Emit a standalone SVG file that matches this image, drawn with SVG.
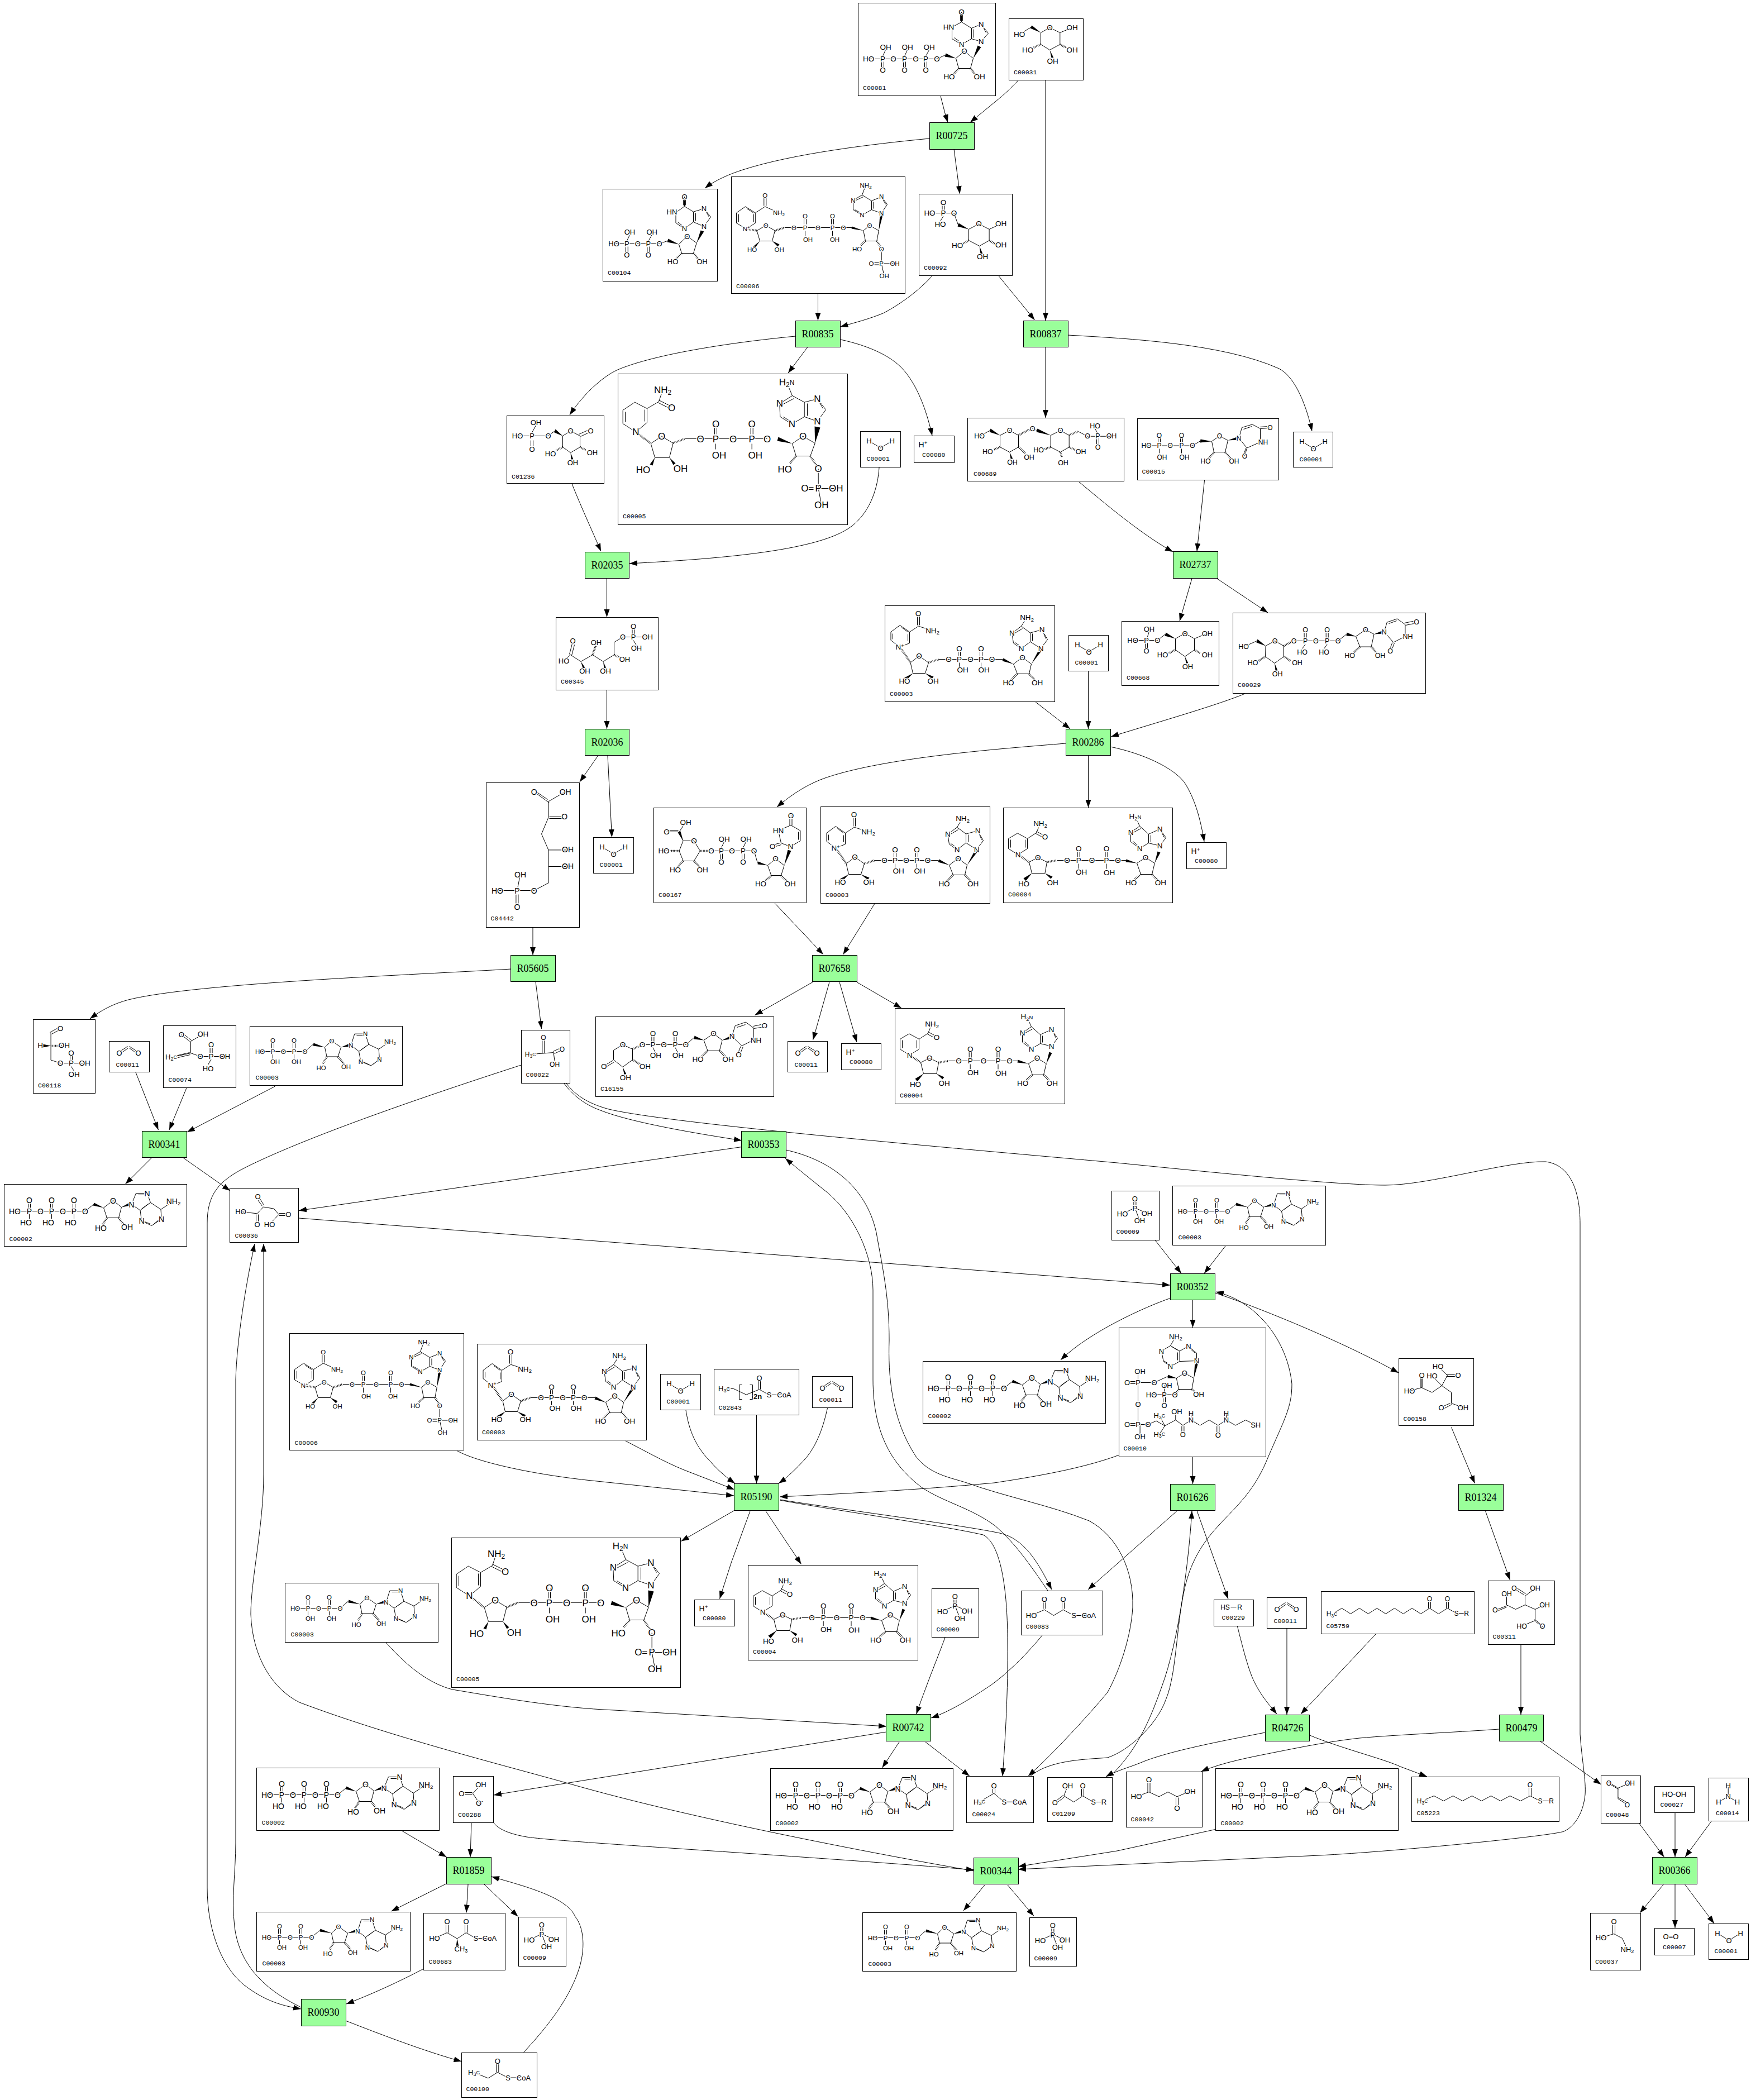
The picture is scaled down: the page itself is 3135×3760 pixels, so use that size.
<svg xmlns="http://www.w3.org/2000/svg" xmlns:xlink="http://www.w3.org/1999/xlink" width="3135" height="3760" viewBox="0 0 3135 3760">
<style>
.bg{fill:#fff}
.b{fill:#fff;stroke:#000;stroke-width:1}
.r{fill:#9aff9a;stroke:#000;stroke-width:1}
.rt{font-family:"Liberation Serif",serif;font-size:18px;text-anchor:middle;dominant-baseline:central;fill:#000}
.id{font-family:"Liberation Mono",monospace;font-size:11.5px;fill:#000;dominant-baseline:central}
.mol path{fill:none;stroke:#000;stroke-width:1}
.mol path.h{stroke-width:3.5;stroke-dasharray:1 1.6}
.mol polygon{fill:#000}
.mol text{font-family:"Liberation Sans",sans-serif;text-anchor:middle;dominant-baseline:central;fill:#000;paint-order:stroke;stroke:#fff;stroke-width:3px}
.mol tspan{font-size:70%}
#connectors path{fill:none;stroke:#000;stroke-width:1;marker-end:url(#a)}
</style>
<defs>
<marker id="a" markerUnits="userSpaceOnUse" markerWidth="15" markerHeight="11" refX="14" refY="5" orient="auto"><path d="M0 0L14 5L0 10Z" fill="#000"/></marker>

<g id="water" class="mol" font-size="13"><path d="M15.4 17L36 29.5L56.8 17"/><text x="15.4" y="17">H</text><text x="36" y="29.5">O</text><text x="56.8" y="17">H</text></g>
<g id="co2" class="mol" font-size="13"><path d="M18 19L33 9M20 22L34 12M36 12L50 22M36 9L52 19"/><text x="18" y="20.7">O</text><text x="52" y="20.7">O</text></g>
<g id="hp" class="mol" font-size="14"><text x="16" y="15">H<tspan dy="-4">+</tspan></text></g>
<g id="pi" class="mol" font-size="13"><path d="M39.4 16V26M43.4 16V26M41.4 30L19 41M41.4 30L63 40M41.4 30L50 53"/><text x="41.4" y="13.7">O</text><text x="19" y="41">HO</text><text x="63" y="40">OH</text><text x="50" y="53">OH</text><text x="41.4" y="30.5">P</text></g>

<g id="atp" class="mol" font-size="14">
<path d="M19 48H145M43 31V42M47 31V42M83 31V42M87 31V42M123 31V42M127 31V42M45 53V62M85 53V62M125 53V62M145 48L160 36M178 42L195 29L210 41L205 60H184ZM228 36L236 16H256L262 32.6L243.5 46.5ZM262 32.6L280.5 45L281.6 62L264 74L246 65.5L243.5 46.5M280.5 45L303 30M240 19H254M258 35L246 44M268 71L279 62M249 66L262 71"/>
<path class="h" d="M184 60L176 72M205 60L214 72"/>
<polygon points="178,42 161,33 159,38"/><polygon points="210,41 224,33 226,38"/>
<text x="19" y="48">HO</text><text x="45" y="48">P</text><text x="45" y="28">O</text><text x="39" y="68">HO</text><text x="65" y="48">O</text><text x="85" y="48">P</text><text x="85" y="28">O</text><text x="79" y="68">HO</text><text x="105" y="48">O</text><text x="125" y="48">P</text><text x="125" y="28">O</text><text x="119" y="68">HO</text><text x="145" y="48">O</text><text x="195" y="29">O</text><text x="173" y="78">HO</text><text x="220" y="76">OH</text><text x="228" y="36">N</text><text x="256" y="16">N</text><text x="246" y="65.5">N</text><text x="281.6" y="62">N</text><text x="303" y="30">NH<tspan dy="3">2</tspan></text>
</g>

<g id="adp" class="mol" font-size="11.5">
<path d="M18 45H98.5M39 28V39M43 28V39M77 28V39M81 28V39M41 50V58M79 50V58M98.5 45L113 32.6M134 37.7L146.4 26L163 37.7L157.6 54.5H137.6ZM181 34L187.3 13.7H206.6L212.7 32.6L195 45ZM212.7 32.6L230.6 41L232 59L216.8 70.5L198.5 63L195 45M230.6 41L251 27M191 16H204M209 35L198 43M221 68L230 60M201 63L214 69"/>
<path class="h" d="M137.6 54.5L130 68M157.6 54.5L168 67"/>
<polygon points="134,37.7 114,30 113,35"/><polygon points="163,37.7 178,31 180,36"/>
<text x="18" y="45">HO</text><text x="41" y="45">P</text><text x="41" y="25.5">O</text><text x="45" y="63">OH</text><text x="60" y="45">O</text><text x="79" y="45">P</text><text x="79" y="25.5">O</text><text x="83" y="63">OH</text><text x="98.5" y="45">O</text><text x="146.4" y="26">O</text><text x="127.5" y="74.7">HO</text><text x="172" y="72">OH</text><text x="181" y="34">N</text><text x="206.6" y="13.7">N</text><text x="198.5" y="63">N</text><text x="232" y="59">N</text><text x="251" y="27">NH<tspan dy="3">2</tspan></text>
</g>

<g id="nad" class="mol" font-size="13.5">
<path d="M10.5 47L26.7 35L44 47V67L26.7 74L10.5 62ZM14 50V60M30 39L41 47M41 51V63M44 47L60 36.7L85 44.6M58 16V35M62 16V35M45.6 102L61 90L78 102L72 121H50ZM96 96H211M131 79V90M135 79V90M133 102V110M170 79V90M174 79V90M172 102V110M230 104.4L246 92.5L262 104.4L258 122H237ZM279 76.5L291 60.6L281 43L260 48.6V64.6ZM260 48.6L244 36.7L227.3 49.4L230 67L244 77L260 64.6M244 36.7L254 21M264 50V63M283 47L288 59M246 41L231 50M233 66L243 73"/>
<path class="h" d="M26.7 74L45.6 102M78 102L96 96M237 122L224 135M258 122L270 135"/>
<polygon points="50,121 33,130 37,135"/><polygon points="72,121 84,131 87,127"/><polygon points="230,104.4 212,94 210,99"/><polygon points="262,104.4 276,78 281,80"/>
<text x="26.7" y="74">N<tspan dy="-4">+</tspan></text><text x="59.6" y="14">O</text><text x="85" y="44.6">NH<tspan dy="3">2</tspan></text><text x="61" y="90">O</text><text x="35" y="134.7">HO</text><text x="86" y="134.7">OH</text><text x="114" y="95.7">O</text><text x="133" y="95.7">P</text><text x="133" y="76.5">O</text><text x="139" y="114.8">OH</text><text x="153" y="95.7">O</text><text x="172" y="95.7">P</text><text x="172" y="76.5">O</text><text x="177" y="114.8">OH</text><text x="191.5" y="95.7">O</text><text x="246" y="92.5">O</text><text x="221" y="138">HO</text><text x="272.6" y="138">OH</text><text x="279" y="76.5">N</text><text x="281" y="43">N</text><text x="244" y="77">N</text><text x="227.3" y="49.4">N</text><text x="254" y="21">NH<tspan dy="3">2</tspan></text>
</g>

<g id="nadh" class="mol" font-size="13.5">
<path d="M26 83.7L9 73V55L25.3 45.4L43 55V73ZM13 57V71M39 57V71M43 55L59 44.6L66 28M59 42L74 50M58 46L73 54M46 97L61.7 89L78 97L74.4 117H51ZM96 94H220M132.7 76V88M136.7 76V88M134.7 100V109M182.5 76V88M186.5 76V88M184.5 100V109M239 99L254.6 89L270.8 99L266 119H246ZM280 67.8L291 53.4L280 38L260 47V63ZM260 47L244 32.7L228 44V60.6L244 72.5L260 63M244 32.7L236 15M264 49V61M283 43L288 53M246 37L231 45M232 60L243 69"/>
<path class="h" d="M26 83.7L46 97M78 97L96 94M246 119L234 129M266 119L276 129"/>
<polygon points="51,117 36,126 40,131"/><polygon points="74.4,117 85,127 88,123"/><polygon points="239,99 220,92 219,97"/><polygon points="270.8,99 276,78 281,80"/>
<text x="26" y="83.7">N</text><text x="74.4" y="52">O</text><text x="66" y="28">NH<tspan dy="3">2</tspan></text><text x="61.7" y="89">O</text><text x="36.5" y="135.5">HO</text><text x="88" y="134">OH</text><text x="114" y="94">O</text><text x="134.7" y="94">P</text><text x="134.7" y="72.5">O</text><text x="139.6" y="115">OH</text><text x="158.5" y="94">O</text><text x="184.5" y="94">P</text><text x="184.5" y="72.5">O</text><text x="189.5" y="115.6">OH</text><text x="205" y="94">O</text><text x="254.6" y="89">O</text><text x="228.7" y="134">HO</text><text x="281.3" y="134">OH</text><text x="280" y="67.8">N</text><text x="280" y="38">N</text><text x="244" y="72.5">N</text><text x="228" y="44">N</text><text x="236" y="15">H<tspan dy="3">2</tspan><tspan dy="-3" font-size="100%">N</tspan></text>
</g>

<g id="nadph" class="mol" font-size="17">
<path d="M32 104L8.7 89V65L30 50.7L52 62V87ZM13 68V86M48 64V85M52 62L73 49.7L80 29M73 47L95 58M71 51L93 62M58.7 124.7L78 111.7L98.7 124L92 149.7H66ZM120 115.7H267M173 91V108M177 91V108M175 125V135M237.7 91V108M241.7 91V108M239.7 125V135M312 124.7L331 111.7L352.7 124L344.3 147H318.7ZM358.7 170V205M358.7 205H390M339 203H350M339 207H350M358.7 205L364.3 234.7M357 85L372 64L357 44.7L333.7 50.7V76.7ZM333.7 50.7L312 39L289.3 53.3L290.3 76.7L311.3 89.7L333.7 76.7M312 39L302 15M339 53V75M360 50L367 62M315 44L296 54M296 77L309 85"/>
<path class="h" d="M32 104L58.7 124.7M98.7 124L120 115.7M318.7 147L308 160M344.3 147L356 165"/>
<polygon points="66,149.7 57,162 62,164"/><polygon points="92,149.7 103,160 99,163"/><polygon points="312,124.7 287,113 285,120"/><polygon points="352.7,124 352,94 362,96"/>
<text x="32" y="104">N</text><text x="96" y="61">O</text><text x="80" y="29">NH<tspan dy="4">2</tspan></text><text x="78" y="111.7">O</text><text x="45" y="171.7">HO</text><text x="112" y="170">OH</text><text x="147.7" y="117">O</text><text x="175" y="116.7">P</text><text x="175" y="89.7">O</text><text x="181" y="145.7">OH</text><text x="206" y="117">O</text><text x="239.7" y="116.7">P</text><text x="239.7" y="89.7">O</text><text x="245.7" y="146">OH</text><text x="267" y="117">O</text><text x="331" y="111.7">O</text><text x="298.7" y="170.7">HO</text><text x="358.7" y="170">O</text><text x="358.7" y="205">P</text><text x="334.3" y="205">O</text><text x="390.3" y="205">OH</text><text x="364.3" y="234.7">OH</text><text x="357" y="85">N</text><text x="357" y="44.7">N</text><text x="311.3" y="89.7">N</text><text x="289.3" y="53.3">N</text><text x="302" y="15">H<tspan dy="4">2</tspan><tspan dy="-4" font-size="100%">N</tspan></text>
</g>

<g id="nadp" class="mol" font-size="11.5">
<path d="M26.7 93.3L9 83V64.6L25 53.4L42.8 64.6V83ZM13 67V81M28 57L40 65M40 67V81M42.8 64.6L60.3 53.4L85 64.6M58.3 36V52M62.3 36V52M45.6 96.5L61.7 87L78 96.5L73 115H51ZM95.4 91H216M130 72V85M134 72V85M132 97V106M179 72V85M183 72V85M181 97V106M236.4 96.5L247.6 87L263.8 96.5L260.3 115H240ZM268.7 129V155.5M268.7 155.5H292M256 153.5H265M256 157.5H265M268.7 155.5L273.6 177.8M268.7 65.4L279 49.4L268.7 35.9L251 43V59ZM251 43L234 32.7L218 42V59L234 68.6L251 59M234 32.7L240.6 15M254.5 45V57M271 40L276 49M236 36L221 43M221 59L232 65"/>
<path class="h" d="M26.7 93.3L45.6 96.5M78 96.5L95.4 91M240 115L231 124M260.3 115L267 125"/>
<polygon points="51,115 39,125 42,128"/><polygon points="73,115 83,125 86,121"/><polygon points="236.4,96.5 216,89 215,93"/><polygon points="263.8,96.5 266,68 271,69"/>
<text x="26.7" y="93.3">N<tspan dy="-3">+</tspan></text><text x="60.3" y="33.5">O</text><text x="85" y="64.6">NH<tspan dy="3">2</tspan></text><text x="61.7" y="87">O</text><text x="37" y="130.7">HO</text><text x="85.6" y="130">OH</text><text x="112" y="91">O</text><text x="132" y="91">P</text><text x="132" y="70">O</text><text x="137" y="112.4">OH</text><text x="155" y="91">O</text><text x="181" y="91">P</text><text x="181" y="70">O</text><text x="185" y="112.4">OH</text><text x="200.6" y="91">O</text><text x="247.6" y="87">O</text><text x="225" y="129">HO</text><text x="268.7" y="129">O</text><text x="268.7" y="155.5">P</text><text x="250.4" y="155.5">O</text><text x="292.5" y="155.5">OH</text><text x="273.6" y="177.8">OH</text><text x="268.7" y="65.4">N</text><text x="268.7" y="35.9">N</text><text x="234" y="68.6">N</text><text x="218" y="42">N</text><text x="240.6" y="15">NH<tspan dy="3">2</tspan></text>
</g>
</defs>

<rect class="bg" width="3135" height="3760"/>

<g id="connectors">
<path d="M1684 172L1692 203L1697 219"/>
<path d="M1823 144C1808 160 1793 173 1793 173L1737 219"/>
<path d="M1872 144V574"/>
<path d="M1664 248C1560 258 1420 275 1330 304C1305 312 1280 323 1262 337"/>
<path d="M1708 267L1718.5 347"/>
<path d="M1464.5 526V574"/>
<path d="M1669 494C1650 515 1620 540 1583 560C1560 570 1530 578 1504.5 585"/>
<path d="M1788 494L1852.5 573"/>
<path d="M1424 602C1300 614 1170 635 1106 662C1075 676 1040 712 1020 743"/>
<path d="M1445.5 622L1411 668"/>
<path d="M1505 608C1560 620 1600 640 1620 665C1645 695 1660 740 1669 780"/>
<path d="M1024 866C1035 895 1060 950 1076 987"/>
<path d="M1574 837C1572 870 1560 915 1525 942C1470 985 1300 1000 1127 1009"/>
<path d="M1872 621V748"/>
<path d="M1912 600C2020 606 2190 615 2290 660C2320 675 2340 730 2349 772"/>
<path d="M1932 863C1965 890 2040 955 2100 988"/>
<path d="M2156.5 860L2143 987"/>
<path d="M2134 1036L2112 1112"/>
<path d="M2179 1036L2270 1097"/>
<path d="M1086.5 1036V1105"/>
<path d="M1086.5 1235V1305"/>
<path d="M1853 1256L1916 1305"/>
<path d="M1948.5 1201V1305"/>
<path d="M2229 1242C2180 1262 2100 1285 1989 1319"/>
<path d="M1908 1331C1800 1340 1590 1355 1480 1392C1450 1402 1420 1420 1391 1445"/>
<path d="M1948.5 1352V1446"/>
<path d="M1988 1337C2050 1350 2100 1375 2120 1400C2140 1430 2150 1470 2156 1507"/>
<path d="M1070 1354L1038 1400"/>
<path d="M1088 1353L1095.5 1499"/>
<path d="M954 1661V1710"/>
<path d="M1387 1617L1474 1709"/>
<path d="M1566 1618L1509.5 1709"/>
<path d="M1455 1758.5L1351.5 1817.5"/>
<path d="M1485 1758.5L1455.5 1862"/>
<path d="M1503 1758.5L1534 1866"/>
<path d="M1534 1758.5L1614 1805"/>
<path d="M915 1735C750 1745 350 1760 230 1790C200 1798 180 1810 161 1824"/>
<path d="M959 1758L969.5 1842"/>
<path d="M243 1920L283.5 2023"/>
<path d="M334 1948L303 2023"/>
<path d="M492.5 1945L335 2027"/>
<path d="M271.5 2073L224.5 2120"/>
<path d="M328 2073L412 2132"/>
<path d="M933 1907C800 1950 560 2030 440 2090C390 2115 371 2140 371 2190V3380C371 3460 400 3530 445 3560C480 3585 510 3592 539 3597"/>
<path d="M539 3594C490 3570 430 3530 420 3450C414 3400 422 3350 422 3300V2470C424 2400 440 2300 456 2227"/>
<path d="M1744 3350C1600 3325 1250 3260 1017 3193C900 3160 700 3110 536 3048C490 3025 452 2970 449 2890C449 2830 472 2730 472 2640V2227"/>
<path d="M1328 2053.5L535 2167.5"/>
<path d="M535 2181L2095 2301"/>
<path d="M1010 1940C1025 1960 1045 1977 1075 1988C1130 2010 1250 2030 1328 2042"/>
<path d="M1014 1940C1030 1960 1050 1975 1090 1986C1200 2012 1700 2055 2000 2082C2200 2102 2400 2122 2480 2122C2560 2122 2700 2078 2767 2080C2810 2085 2829 2130 2829 2191V3105C2832 3150 2840 3190 2838 3213C2835 3245 2820 3270 2800 3279C2780 3287 2500 3315 2362 3322L1823 3347"/>
<path d="M2068.5 2221L2115 2280"/>
<path d="M2194 2231L2156 2280"/>
<path d="M1407 2059C1480 2075 1550 2120 1569 2207C1580 2270 1592 2320 1592 2400C1590 2460 1595 2540 1640 2608C1665 2640 1700 2645 1731 2655C1800 2680 1880 2695 1950 2723C2000 2750 2030 2810 2028 2878C2025 2930 2005 2990 1983 3030C1950 3070 1890 3135 1841 3180"/>
<path d="M1876 2848C1850 2810 1820 2765 1783 2733C1740 2700 1690 2690 1650 2663C1600 2625 1563 2570 1563 2470V2310C1563 2250 1530 2170 1471 2127C1450 2110 1425 2090 1406 2074"/>
<path d="M1396 2685C1500 2702 1720 2730 1790 2745C1835 2755 1860 2800 1883 2846"/>
<path d="M1396 2686C1500 2705 1680 2730 1760 2748C1795 2765 1804 2860 1804 2940C1805 3030 1800 3110 1795 3180"/>
<path d="M2004 2605C1950 2625 1880 2640 1780 2655C1640 2668 1500 2675 1396 2680"/>
<path d="M819 2598C860 2620 960 2640 1050 2650L1314 2678"/>
<path d="M1120 2580C1150 2595 1190 2618 1225 2632L1315 2667"/>
<path d="M1228 2525C1232 2550 1240 2585 1272 2617C1285 2632 1300 2645 1316 2656"/>
<path d="M1354.5 2533V2656"/>
<path d="M1481.5 2521C1475 2550 1465 2585 1441 2613C1425 2630 1410 2645 1394 2656"/>
<path d="M1315.5 2704L1219.5 2759.5"/>
<path d="M1343 2705.5L1309.5 2797L1288.5 2862.5"/>
<path d="M1371 2705.5L1434.5 2800.5"/>
<path d="M2095 2324.5C2050 2340 1950 2385 1899 2435"/>
<path d="M2135.5 2328V2377"/>
<path d="M2135.5 2608V2657"/>
<path d="M2176 2315C2250 2340 2400 2400 2504 2458"/>
<path d="M1845 3180C1880 3150 1950 3150 1983 3147C2020 3135 2070 3090 2087 3044C2110 2990 2105 2880 2130 2813C2165 2720 2230 2710 2270 2610C2300 2540 2313 2520 2313 2478C2305 2400 2250 2330 2177 2313"/>
<path d="M1988 3180C2040 3130 2062 3070 2080 3020C2110 2940 2128 2800 2134 2705"/>
<path d="M2265 3102C2200 3115 2090 3135 2040 3157C2020 3165 2000 3170 1980 3181"/>
<path d="M2107 2705.5L1948 2846"/>
<path d="M2143 2705L2199 2863"/>
<path d="M2215.5 2912C2225 2950 2235 2990 2246 3012C2260 3040 2275 3055 2286 3069"/>
<path d="M2304 2915V3070"/>
<path d="M2463 2926L2329 3069"/>
<path d="M2345 3107C2400 3130 2480 3150 2507 3163L2555 3181"/>
<path d="M2684 3096C2600 3102 2500 3106 2434 3112C2380 3118 2330 3128 2290 3136C2240 3146 2190 3155 2150.5 3172"/>
<path d="M2758 3118L2866.5 3195"/>
<path d="M2598.5 2555.5L2640.5 2656"/>
<path d="M2659.5 2705.5L2703.5 2829"/>
<path d="M2723 2944V3070"/>
<path d="M2935 3265L2979.5 3325"/>
<path d="M2999 3246V3325"/>
<path d="M3064 3261L3017 3325"/>
<path d="M2978 3374.5L2936 3425"/>
<path d="M2999 3374V3452"/>
<path d="M3017 3374.5L3069 3444"/>
<path d="M691 2941C730 2985 770 3015 810 3025C900 3040 1000 3058 1100 3062L1587 3091"/>
<path d="M1692 2932C1680 2965 1665 3000 1640.5 3069"/>
<path d="M1866 2928C1840 2960 1800 3000 1770 3020C1740 3040 1700 3065 1667 3076"/>
<path d="M1587 3101L1050 3187C1000 3195 950 3203 884 3214"/>
<path d="M1610 3119L1579.5 3165"/>
<path d="M1657 3119L1736 3180"/>
<path d="M884 3264C895 3278 920 3285 943 3289C1000 3298 1400 3320 1744 3348"/>
<path d="M1763 3375L1725 3421"/>
<path d="M1804 3375L1851 3430.5"/>
<path d="M2176 3275.5L2000 3314L1823 3342"/>
<path d="M719.5 3278L799.5 3325"/>
<path d="M844 3264L842 3325"/>
<path d="M799.5 3372.5L700.5 3422"/>
<path d="M838 3374L835 3424.5"/>
<path d="M867 3374L927.5 3431.5"/>
<path d="M758.5 3525C730 3540 680 3565 620 3588"/>
<path d="M620 3618.5C650 3630 750 3670 826.5 3691"/>
<path d="M938 3674.5C950 3660 1010 3600 1034 3533C1050 3490 1045 3450 1030 3432C1015 3395 930 3375 880 3360"/>
</g>

<g id="R00725"><rect class="r" x="1664.5" y="219.5" width="80" height="48"/><text class="rt" x="1704" y="243">R00725</text></g>
<g id="R00835"><rect class="r" x="1424.5" y="574.5" width="80" height="47"/><text class="rt" x="1464" y="598">R00835</text></g>
<g id="R00837"><rect class="r" x="1832.5" y="574.5" width="80" height="47"/><text class="rt" x="1872" y="598">R00837</text></g>
<g id="R02035"><rect class="r" x="1047.5" y="988.5" width="79" height="47"/><text class="rt" x="1087" y="1012">R02035</text></g>
<g id="R02737"><rect class="r" x="2100.5" y="987.5" width="80" height="48"/><text class="rt" x="2140" y="1011">R02737</text></g>
<g id="R00286"><rect class="r" x="1908.5" y="1305.5" width="80" height="47"/><text class="rt" x="1948" y="1329">R00286</text></g>
<g id="R02036"><rect class="r" x="1047.5" y="1305.5" width="79" height="47"/><text class="rt" x="1087" y="1329">R02036</text></g>
<g id="R05605"><rect class="r" x="914.5" y="1710.5" width="80" height="47"/><text class="rt" x="954" y="1734">R05605</text></g>
<g id="R07658"><rect class="r" x="1454.5" y="1710.5" width="80" height="47"/><text class="rt" x="1494" y="1734">R07658</text></g>
<g id="R00341"><rect class="r" x="254.5" y="2025.5" width="80" height="47"/><text class="rt" x="294" y="2049">R00341</text></g>
<g id="R00353"><rect class="r" x="1327.5" y="2025.5" width="80" height="47"/><text class="rt" x="1367" y="2049">R00353</text></g>
<g id="R00352"><rect class="r" x="2095.5" y="2280.5" width="80" height="47"/><text class="rt" x="2135" y="2304">R00352</text></g>
<g id="R05190"><rect class="r" x="1314.5" y="2656.5" width="80" height="48"/><text class="rt" x="1354" y="2680">R05190</text></g>
<g id="R01626"><rect class="r" x="2095.5" y="2657.5" width="80" height="47"/><text class="rt" x="2135" y="2681">R01626</text></g>
<g id="R01324"><rect class="r" x="2611.5" y="2657.5" width="80" height="47"/><text class="rt" x="2651" y="2681">R01324</text></g>
<g id="R00742"><rect class="r" x="1586.5" y="3069.5" width="80" height="48"/><text class="rt" x="1626" y="3093">R00742</text></g>
<g id="R04726"><rect class="r" x="2265.5" y="3070.5" width="79" height="47"/><text class="rt" x="2305" y="3094">R04726</text></g>
<g id="R00479"><rect class="r" x="2684.5" y="3070.5" width="79" height="47"/><text class="rt" x="2724" y="3094">R00479</text></g>
<g id="R00366"><rect class="r" x="2958.5" y="3325.5" width="80" height="48"/><text class="rt" x="2998" y="3349">R00366</text></g>
<g id="R01859"><rect class="r" x="799.5" y="3325.5" width="80" height="48"/><text class="rt" x="839" y="3349">R01859</text></g>
<g id="R00344"><rect class="r" x="1743.5" y="3326.5" width="80" height="47"/><text class="rt" x="1783" y="3350">R00344</text></g>
<g id="R00930"><rect class="r" x="539.5" y="3579.5" width="80" height="48"/><text class="rt" x="579" y="3603">R00930</text></g>

<g id="C00081" transform="translate(1536.5 5.5)"><rect class="b" width="246" height="166"/><g class="mol" font-size="13.5"><path d="M19 100H141M42 105V115M46 105V115M81 105V115M85 105V115M119 105V115M123 105V115M44 95L49 84M83 95L88 84M121 95L127 84M141 100L156 93M175 99L190 86L206 99L201 117H180ZM220 69L233 54L220 38L203 45V64ZM203 45L185 34L168 43L168 64L185 74L203 64M185 34V16M183 18V32M187 18V32M207 47V62M223 42L229 53M172 62L183 70"/><path class="h" d="M180 117L170 128M201 117L210 128"/><polygon points="175,99 157,90 155,96"/><polygon points="206,99 214,76 220,79"/><text x="18.7" y="100">HO</text><text x="44" y="100">P</text><text x="49" y="79">OH</text><text x="44" y="120">O</text><text x="63" y="100">O</text><text x="83" y="100">P</text><text x="88" y="79">OH</text><text x="83" y="120">O</text><text x="103" y="100">O</text><text x="121" y="100">P</text><text x="127" y="79">OH</text><text x="121" y="120">O</text><text x="141" y="100">O</text><text x="190" y="86">O</text><text x="163" y="132">HO</text><text x="217" y="132">OH</text><text x="220" y="69">N</text><text x="220" y="38">N</text><text x="185" y="74">N</text><text x="162" y="43">HN</text><text x="185" y="16">O</text></g><text class="id" x="8.5" y="152">C00081</text></g>

<g id="C00031" transform="translate(1806.5 33.5)"><rect class="b" width="133" height="110"/><g class="mol" font-size="13.5"><path d="M18.7 28L40 15M57 25L73 16L91.3 25V46L73 56L57 46ZM91.3 25L113 16M73 56"/><path class="h" d="M57 46L44 52M91.3 46L103 52"/><polygon points="57,25 41,12 38,17"/><polygon points="73,56 76,70 80,70"/><text x="18.7" y="28">HO</text><text x="73" y="16">O</text><text x="113" y="16">OH</text><text x="113" y="55.7">OH</text><text x="78" y="75.7">OH</text><text x="33.7" y="55.7">HO</text></g><text class="id" x="8.5" y="96">C00031</text></g>

<g id="C00104" transform="translate(1079.5 338.5)"><rect class="b" width="205" height="165"/><g class="mol" font-size="13"><path d="M19.6 98H101M40.8 103V113M44.8 103V113M79.4 103V113M83.4 103V113M42.8 93L48 82M81.4 93L87.7 82M101 98L116.4 92.5M136 99L150.8 84.5L167.7 96.5L162 115H141ZM181 67L193 50L181 35L162 40.7V59ZM162 40.7L146 31L130.5 42L130.5 60.6L146 71L162 59M146 31V13.5M144 15V29M148 15V29M166 43V57M184 39L190 50M134 59L144 67"/><path class="h" d="M141 115L131 125M162 115L171 125"/><polygon points="136,99 117,89 115,95"/><polygon points="167.7,96.5 175,74 181,76"/><text x="19.6" y="98">HO</text><text x="42.8" y="98">P</text><text x="48" y="77">OH</text><text x="42.8" y="118">O</text><text x="62.4" y="98">O</text><text x="81.4" y="98">P</text><text x="87.7" y="77">OH</text><text x="81.4" y="118">O</text><text x="101" y="98">O</text><text x="150.8" y="84.5">O</text><text x="125" y="130">HO</text><text x="177.5" y="130">OH</text><text x="181" y="67">N</text><text x="181" y="35">N</text><text x="146" y="71">N</text><text x="123.5" y="41">HN</text><text x="146" y="13.5">O</text></g><text class="id" x="8.5" y="150">C00104</text></g>

<g id="C00006_a" transform="translate(1309.5 316.5)"><rect class="b" width="311" height="209"/><use href="#nadp"/><text class="id" x="8.5" y="196">C00006</text></g>

<g id="C00092" transform="translate(1645.5 347.5)"><rect class="b" width="167" height="146"/><g class="mol" font-size="13.5"><path d="M19 34H62.4L70 55M41.5 17V28M45.5 17V28M43.5 40L38 48M89 63L107 53.4L125.6 63V83L108 93L89 83ZM125.6 63L146.6 53.4"/><path class="h" d="M89 83L78 89M125.6 83L136 89"/><polygon points="89,63 71,52 69,58"/><polygon points="108,93 110,107 114,107"/><text x="19" y="34">HO</text><text x="43.5" y="34">P</text><text x="43.5" y="15">O</text><text x="38" y="54">HO</text><text x="62.4" y="34">O</text><text x="107" y="53.4">O</text><text x="146.6" y="53.4">OH</text><text x="146.6" y="91">OH</text><text x="113.6" y="112.4">OH</text><text x="68.7" y="91.7">HO</text></g><text class="id" x="8.5" y="131.5">C00092</text></g>

<g id="C01236" transform="translate(907.5 744.5)"><rect class="b" width="174" height="121"/><g class="mol" font-size="13"><path d="M19 36H74L86 27M43 44V55M47 44V55M45 30L52 17M100 36L114 27L131 36V56L114 66L100 56ZM129 33L147 25M132 37L149 29"/><path class="h" d="M100 56L88 62M131 56L142 62"/><polygon points="100,36 87,24 85,30"/><polygon points="114,66 115,78 119,78"/><text x="19" y="36">HO</text><text x="45" y="36">P</text><text x="52" y="12">OH</text><text x="45" y="60">O</text><text x="74" y="36">O</text><text x="114" y="27">O</text><text x="150" y="27">O</text><text x="78" y="68">HO</text><text x="153" y="66">OH</text><text x="118" y="84">OH</text></g><text class="id" x="8.5" y="109">C01236</text></g>

<g id="C00005_a" transform="translate(1106.5 669.5)"><rect class="b" width="411" height="270"/><use href="#nadph"/><text class="id" x="8.5" y="255">C00005</text></g>

<g id="C00001_a" transform="translate(1540.5 772.5)"><rect class="b" width="72" height="64"/><use href="#water"/><text class="id" x="11" y="49">C00001</text></g>
<g id="C00080_a" transform="translate(1636.5 780.5)"><rect class="b" width="72" height="48"/><use href="#hp"/><text class="id" x="14.5" y="33.5">C00080</text></g>

<g id="C00689" transform="translate(1732.5 748.5)"><rect class="b" width="280" height="113"/><g class="mol" font-size="12.5"><path d="M21 32.7L40 22.3M58 31L75 22.3L91 31V52L75 61L58 52ZM148.7 31L166 22.3L181.7 31V52L166 61L148.7 52ZM116 19L124 22M197.8 24L214.7 32.7H257M231 36V50M235 36V50M233 28L228 19"/><path class="h" d="M91 31L112 20M181.7 31L197 24M58 52L46 57M91 52L103 63M166 61L169 70M148.7 52L137 56M181.7 52L193 57"/><polygon points="58,31 41,19 39,25"/><polygon points="148.7,31 125,19 123,25"/><polygon points="75,61 77,73 81,73"/><text x="21" y="32.7">HO</text><text x="75" y="22.3">O</text><text x="116" y="19">O</text><text x="166" y="22.3">O</text><text x="214.7" y="32.7">O</text><text x="233" y="32.7">P</text><text x="228" y="14.3">HO</text><text x="257.5" y="32.7">OH</text><text x="233" y="52">O</text><text x="110" y="70">OH</text><text x="80" y="79">OH</text><text x="35.8" y="60">HO</text><text x="202.7" y="60">OH</text><text x="171" y="80">OH</text><text x="127" y="57.4">HO</text></g><text class="id" x="10.5" y="100">C00689</text></g>

<g id="C00015" transform="translate(2036.5 749.5)"><rect class="b" width="253" height="110"/><g class="mol" font-size="12"><path d="M16 48.6H98.4L111.5 40.7M37 33V44M41 33V44M77 33V44M81 33V44M39 54V62M79 54V62M133 40.7L147 31L162 39L157 60H137ZM181.7 35L187 16L205.6 10.4L220 18V42L196 52.6ZM190 19L205 14M220 18L237.4 16.7M219 15L235 14M196 52.6L192 67M194 53L190 66"/><path class="h" d="M137 60L128 71M157 60L167 71"/><polygon points="133,40.7 113,37 112,43"/><polygon points="162,39 178,33 180,38"/><text x="16" y="48.6">HO</text><text x="39" y="48.6">P</text><text x="39" y="30">O</text><text x="44" y="69">OH</text><text x="58.6" y="48.6">O</text><text x="79" y="48.6">P</text><text x="79" y="30">O</text><text x="84" y="69">OH</text><text x="98.4" y="48.6">O</text><text x="147" y="31">O</text><text x="122" y="76.5">HO</text><text x="173" y="76.5">OH</text><text x="181.7" y="35">N</text><text x="237.4" y="16.7">O</text><text x="225" y="42">NH</text><text x="192" y="67">O</text></g><text class="id" x="8" y="95">C00015</text></g>

<g id="C00001_b" transform="translate(2315.5 773.5)"><rect class="b" width="71" height="63"/><use href="#water"/><text class="id" x="11" y="49">C00001</text></g>

<g id="C00345" transform="translate(995.5 1105.5)"><rect class="b" width="183" height="130"/><g class="mol" font-size="13"><path d="M26 67L44.5 79L65.5 67L84.5 79L104 67V44.5L119.5 35H163.7M136.5 19V30M140.5 19V30M138.5 41L144 50M24 66L29 47M28 68L33 49"/><path class="h" d="M65.5 67L71 51M104 67L116 73"/><polygon points="84.5,79 86,91 90,91"/><polygon points="44.5,79 48,91 52,90"/><path d="M26 67L14 77"/><text x="30" y="42">O</text><text x="14" y="78">HO</text><text x="119.5" y="35">O</text><text x="138.5" y="35">P</text><text x="138.5" y="16">O</text><text x="163.7" y="35">OH</text><text x="144" y="55">OH</text><text x="123" y="75">OH</text><text x="88.6" y="96">OH</text><text x="72" y="45">OH</text><text x="51.5" y="96">OH</text></g><text class="id" x="8.5" y="115">C00345</text></g>

<g id="C00668" transform="translate(2008.5 1112.5)"><rect class="b" width="174" height="115"/><g class="mol" font-size="13"><path d="M19.5 34H63.7L78 23M44 34L49 18M42 39V49M46 39V49M96 31L113 21.5L130 31V51L113 63L96 51ZM130 31L153 21.5"/><path class="h" d="M96 51L84 57M130 51L141 57"/><polygon points="96,31 79,20 77,26"/><polygon points="113,63 115,75 119,75"/><text x="19.5" y="34">HO</text><text x="44" y="34">P</text><text x="49" y="14">OH</text><text x="44" y="53">O</text><text x="63.7" y="34">O</text><text x="113" y="21.5">O</text><text x="153" y="21.5">OH</text><text x="153" y="60">OH</text><text x="118" y="80.5">OH</text><text x="73" y="60">HO</text></g><text class="id" x="8.5" y="100.5">C00668</text></g>

<g id="C00029" transform="translate(2207.5 1097.5)"><rect class="b" width="345" height="144"/><g class="mol" font-size="12.5"><path d="M19 60.6L43 50M58.6 59L75 50L91 59V78L74.6 90L58 78ZM109 50H188L203.4 38M127.6 33V44M131.6 33V44M166.7 33V44M170.7 33V44M129.6 56L124 64M168.7 56L163 64M220 42L237.4 30L252.6 38L247.6 60.6H227.3ZM270.7 34L275.8 16.7L294 10.4L308.4 20.7V42L287.4 52.6ZM279 19L293 14M307 18L327 14M309 22L329 18M285.4 53L280 67M289 54L283.5 68"/><path class="h" d="M91 59L104 52M58 78L46 86M91 78L103 86M227.3 60.6L215 72M247.6 60.6L258 72"/><polygon points="58.6,59 44,47 42,53"/><polygon points="74.6,90 76,103 80,103"/><polygon points="220,42 204,35 203,41"/><polygon points="252.6,38 267,32 269,37"/><text x="19" y="60.6">HO</text><text x="75" y="50">O</text><text x="109" y="50">O</text><text x="129.6" y="50">P</text><text x="129.6" y="30">O</text><text x="124" y="70">HO</text><text x="148.4" y="50">O</text><text x="168.7" y="50">P</text><text x="168.7" y="30">O</text><text x="163" y="70">HO</text><text x="188" y="50">O</text><text x="237.4" y="30">O</text><text x="209" y="76.5">HO</text><text x="263.5" y="76.5">OH</text><text x="270.7" y="34">N</text><text x="328.6" y="16.7">O</text><text x="313" y="42">NH</text><text x="281.6" y="68.6">O</text><text x="115" y="89">OH</text><text x="79.6" y="109">OH</text><text x="35.5" y="89">HO</text></g><text class="id" x="8.5" y="129">C00029</text></g>

<g id="C00003_a" transform="translate(1584.5 1084.5)"><rect class="b" width="304" height="172"/><use href="#nad"/><text class="id" x="8.5" y="158">C00003</text></g>
<g id="C00001_c" transform="translate(1913.5 1137.5)"><rect class="b" width="71" height="64"/><use href="#water"/><text class="id" x="11" y="49">C00001</text></g>
<g id="C00001_d" transform="translate(1062.5 1499.5)"><rect class="b" width="72" height="64"/><use href="#water"/><text class="id" x="11" y="49">C00001</text></g>

<g id="C00167" transform="translate(1170.5 1446.5)"><rect class="b" width="273" height="170"/><g class="mol" font-size="13.5"><path d="M18 77H45.6L52.6 59H72L83 77L72 95H52.6L45.6 77ZM52.6 59L45.6 43L57 25.5M44 43H23M44 40H25M83 77M103 77H179.6L186 99M119 82V93M123 82V93M158 82V93M162 82V93M121 71L126 61M160 71L165 61M204 103L218 91L233.6 103L228 121H210.5ZM244.8 69.4L262.4 59V40.7L245.5 31L223 40.7L228 63ZM243.5 31V13.5M247.5 31V13.5M259 43V57M226 63L210 67M228 66L212 71"/><path class="h" d="M45.6 77L31 77M83 77L99 77M52.6 95L43 106M72 95L82 106M210.5 121L199 131M228 121L238 131"/><polygon points="52.6,59 43,44 48,42"/><polygon points="204,103 187,96 186,101"/><polygon points="233.6,103 240,75 246,77"/><text x="18" y="77">HO</text><text x="72" y="59">O</text><text x="23" y="43">O</text><text x="57" y="25.5">OH</text><text x="103" y="77">O</text><text x="121" y="77">P</text><text x="126" y="56">OH</text><text x="121" y="97">O</text><text x="140" y="77">O</text><text x="160" y="77">P</text><text x="165" y="56">OH</text><text x="160" y="97">O</text><text x="179.6" y="77">O</text><text x="218" y="91">O</text><text x="191.5" y="135.5">HO</text><text x="244" y="135.5">OH</text><text x="244.8" y="69.4">N</text><text x="245.5" y="13.5">O</text><text x="223" y="40.7">HN</text><text x="212.5" y="69.4">O</text><text x="38.5" y="111">HO</text><text x="87" y="111">OH</text></g><text class="id" x="8.5" y="155.5">C00167</text></g>

<g id="C00003_b" transform="translate(1469.5 1444.5)"><rect class="b" width="303" height="173"/><use href="#nad"/><text class="id" x="8.5" y="158">C00003</text></g>
<g id="C00004_a" transform="translate(1796.5 1446.5)"><rect class="b" width="303" height="170"/><use href="#nadh"/><text class="id" x="8.5" y="155">C00004</text></g>
<g id="C00080_b" transform="translate(2124.5 1508.5)"><rect class="b" width="71" height="47"/><use href="#hp"/><text class="id" x="14.5" y="33">C00080</text></g>

<g id="C04442" transform="translate(870.5 1401.5)"><rect class="b" width="167" height="259"/><g class="mol" font-size="14"><path d="M141.7 16L111.5 33.5V62L99 91.7L111.5 120.4V150V179.4L85.6 193H20M110 30L88 15M113 36L91 20M111.5 120.4H146M111.5 150H146M113 61H138M113 64H138M55.4 193L61 164M53.4 200V216M57.4 200V216"/><text x="85.6" y="16">O</text><text x="141.7" y="16">OH</text><text x="140.3" y="60.6">O</text><text x="146" y="119.6">OH</text><text x="146" y="149">OH</text><text x="85.6" y="193">O</text><text x="55.4" y="193">P</text><text x="20" y="193">HO</text><text x="61" y="164">OH</text><text x="55.4" y="222.4">O</text></g><text class="id" x="8" y="243">C04442</text></g>

<g id="C16155" transform="translate(1066.5 1820.5)"><rect class="b" width="319" height="143"/><g class="mol" font-size="13.5"><path d="M48.4 50L66 58V77L48.4 90L32 77V60ZM31 78L15 88M33 81L17 91M83.5 50H161.3L176 37.5M100.4 34V45M104.4 34V45M140.4 34V45M144.4 34V45M102.4 55L107 64M142.4 55L147 64M193.6 42L211 30L226.6 42L221.7 61H200.6ZM244 35L249.8 16L268.7 9.6L282.7 20V41.5L261.7 52ZM253 19L268 14M282 17L301 13M283 21L303 18M259.7 53L254 67M263.7 54L258 68"/><path class="h" d="M66 58L80 52M66 77L80 85M200.6 61L190 71M221.7 61L232 71"/><polygon points="48.4,90 51,103 55,103"/><polygon points="193.6,42 177,34 176,40"/><polygon points="226.6,42 240,35 242,40"/><text x="48.4" y="50">O</text><text x="14.7" y="89">O</text><text x="88.4" y="89">OH</text><text x="53.3" y="109">OH</text><text x="83.5" y="50">O</text><text x="102.4" y="50">P</text><text x="102.4" y="30">O</text><text x="107.3" y="69">OH</text><text x="122" y="50">O</text><text x="142.4" y="50">P</text><text x="142.4" y="30">O</text><text x="147.3" y="69">OH</text><text x="161.3" y="50">O</text><text x="211" y="30">O</text><text x="183" y="75.7">HO</text><text x="237" y="75.7">OH</text><text x="244" y="35">N</text><text x="302.3" y="16">O</text><text x="287" y="41.5">NH</text><text x="256" y="67.8">O</text></g><text class="id" x="8.5" y="129">C16155</text></g>

<g id="C00011_b" transform="translate(1410.5 1864.5)"><rect class="b" width="71" height="55"/><use href="#co2"/><text class="id" x="12" y="41.5">C00011</text></g>
<g id="C00080_c" transform="translate(1506.5 1868.5)"><rect class="b" width="71" height="47"/><use href="#hp"/><text class="id" x="14.5" y="33">C00080</text></g>
<g id="C00004_b" transform="translate(1602.5 1805.5)"><rect class="b" width="304" height="171"/><use href="#nadh"/><text class="id" x="8.5" y="156">C00004</text></g>

<g id="C00118" transform="translate(59.5 1825.5)"><rect class="b" width="111" height="132"/><g class="mol" font-size="13.5"><path d="M31.6 23V72.5L48.4 78H92M30 23L46 14M33 26L46 19M66 63V73M70 63V73M68 84L73 92"/><polygon points="31.6,47 17,44 17,50"/><path d="M31.6 47H55" class="h"/><text x="48.4" y="16">O</text><text x="12.6" y="46">H</text><text x="55.4" y="46">OH</text><text x="48.4" y="78">O</text><text x="68" y="78">P</text><text x="68" y="60">O</text><text x="92" y="78">OH</text><text x="73" y="98">OH</text></g><text class="id" x="8.5" y="118">C00118</text></g>

<g id="C00011_a" transform="translate(195.5 1864.5)"><rect class="b" width="72" height="55"/><use href="#co2"/><text class="id" x="12" y="41.5">C00011</text></g>

<g id="C00074" transform="translate(292.5 1836.5)"><rect class="b" width="130" height="111"/><g class="mol" font-size="13"><path d="M71 15L49 28V49L18 56M47 28L32 16M50 26L35 14M47 48L22 54M48 52L22 58M49 49L66 55H110M83.6 38V50M87.6 38V50M85.6 60L80 70"/><text x="32.3" y="16">O</text><text x="71" y="15">OH</text><text x="14" y="56">H<tspan dy="3">2</tspan><tspan dy="-3" font-size="100%">C</tspan></text><text x="66" y="55">O</text><text x="85.6" y="55">P</text><text x="85.6" y="34">O</text><text x="110" y="55">OH</text><text x="80" y="76.5">HO</text></g><text class="id" x="9" y="97">C00074</text></g>

<g id="C00003_c" transform="translate(447.5 1837.5)"><rect class="b" width="273" height="106"/><use href="#adp"/><text class="id" x="10" y="92">C00003</text></g>

<g id="C00022" transform="translate(933.5 1844.5)"><rect class="b" width="87" height="95"/><g class="mol" font-size="12"><path d="M37.3 17V41M41.3 17V41M17.5 43L39.3 41.5L57.5 40L59.6 55M57 38L70 32M59 42L72 36"/><text x="39.3" y="13">O</text><text x="16" y="43">H<tspan dy="3">3</tspan><tspan dy="-3" font-size="100%">C</tspan></text><text x="73" y="34">O</text><text x="59.6" y="61.4">OH</text></g><text class="id" x="8" y="80">C00022</text></g>

<g id="C00002_a" transform="translate(7.5 2120.5)"><rect class="b" width="327" height="111"/><use href="#atp"/><text class="id" x="9" y="98">C00002</text></g>

<g id="C00036" transform="translate(411.5 2127.5)"><rect class="b" width="123" height="97"/><g class="mol" font-size="13"><path d="M19.6 42L49 45.4L60 33.5L79 36.7L87.7 47L71 64.6M47 47V62M51 47V62M58 32L48 18M61 30L52 16M88 45H103M88 49H103"/><text x="19.6" y="42">HO</text><text x="49" y="64.6">O</text><text x="50" y="15">O</text><text x="104.8" y="47">O</text><text x="71" y="64.6">HO</text></g><text class="id" x="9" y="84.5">C00036</text></g>

<g id="C00009_a" transform="translate(1990.5 2132.5)"><rect class="b" width="85" height="88"/><use href="#pi"/><text class="id" x="8" y="73">C00009</text></g>
<g id="C00003_d" transform="translate(2099.5 2123.5)"><rect class="b" width="274" height="106"/><use href="#adp"/><text class="id" x="10" y="92">C00003</text></g>
<g id="C00002_b" transform="translate(1652.5 2437.5)"><rect class="b" width="327" height="111"/><use href="#atp"/><text class="id" x="9" y="98">C00002</text></g>

<g id="C00010" transform="translate(2003.5 2377.5)"><rect class="b" width="263" height="231"/><g class="mol" font-size="13"><path d="M101.3 16L92 32L76 41.5L79.6 60L92 69.4L108.6 60V41.5L92 32M108.6 41.5L124.5 32.7L139 45.4V59L108.6 60M105 44V58M80 59L90 65M95 34L105 40M126 36L136 45M134 90L117.3 81L102.8 90L107 110H130.3ZM87 87L63 98H34M34 78V173M17 96H30M17 100H30M17 171H30M17 175H30M34 173H52L66.6 166.6L82 175.4L72.4 157M82 175.4L72.4 190.5M82 175.4L101.3 165L114.4 174.6L129 165L145 174.6L161.4 165L177.3 174.6L192 165L208.5 174.6L226.6 165L244.7 174M101.3 165V150M112.4 176V190M116.4 176V190M175.3 176V190M179.3 176V190M129 165V153M192 165V153M100 119.6H58M81 103V119.6M79 124V135M83 124V135M37.6 195V173"/><path class="h" d="M107 110L100 119M130.3 110L142 119"/><polygon points="134,90 136,60 142,62"/><polygon points="102.8,90 88,84 87,90"/><text x="101.3" y="16">NH<tspan dy="3">2</tspan></text><text x="76" y="41.5">N</text><text x="92" y="69.4">N</text><text x="124.5" y="32.7">N</text><text x="139" y="59">N</text><text x="117.3" y="81">O</text><text x="142.6" y="119">OH</text><text x="63" y="98">O</text><text x="34" y="98">P</text><text x="14.5" y="98">O</text><text x="37.6" y="78">OH</text><text x="34" y="137">O</text><text x="34" y="173">P</text><text x="14.5" y="173">O</text><text x="37.6" y="195">OH</text><text x="52" y="173">O</text><text x="100" y="119.6">O</text><text x="81" y="119.6">P</text><text x="58" y="119.6">HO</text><text x="85.4" y="103">OH</text><text x="81" y="139">O</text><text x="72.4" y="157">H<tspan dy="3">3</tspan><tspan dy="-3" font-size="100%">C</tspan></text><text x="72.4" y="190.5">H<tspan dy="3">3</tspan><tspan dy="-3" font-size="100%">C</tspan></text><text x="103.5" y="150">OH</text><text x="114.4" y="190.5">O</text><text x="129" y="165">N</text><text x="129" y="153">H</text><text x="177.3" y="192">O</text><text x="192" y="165">N</text><text x="192" y="153">H</text><text x="244.7" y="174">SH</text></g><text class="id" x="8" y="216">C00010</text></g>

<g id="C00158" transform="translate(2504.5 2432.5)"><rect class="b" width="134" height="120"/><g class="mol" font-size="13"><path d="M59.4 31L77 48.6M70 14L87 30M77 48.6L87 30M85 29H104M85 32H104M77 48.6L59.4 60.6L40.5 52V35M38.5 52V33M42.5 52V33M40.5 52L19 58M77 48.6L94 60.6V80M92 80L78 86M95 82L80 90M94 80L115 87.7"/><text x="70" y="14">HO</text><text x="106" y="30">O</text><text x="59.4" y="31">HO</text><text x="41" y="30">O</text><text x="19" y="58">HO</text><text x="76" y="87.7">O</text><text x="115" y="87.7">OH</text></g><text class="id" x="8" y="107.5">C00158</text></g>

<g id="C00083" transform="translate(1828.5 2848.5)"><rect class="b" width="146" height="79"/><g class="mol" font-size="13"><path d="M18 44L41.4 33.7L58 44L75 33.7L94 44H121M39.4 18V32M43.4 18V32M73 18V32M77 18V32"/><text x="18" y="44">HO</text><text x="41.4" y="14.5">O</text><text x="75" y="14.5">O</text><text x="94" y="44">S</text><text x="121" y="44">CoA</text></g><text class="id" x="8" y="64">C00083</text></g>

<g id="C00006_b" transform="translate(518.5 2387.5)"><rect class="b" width="312" height="209"/><use href="#nadp"/><text class="id" x="9" y="196">C00006</text></g>
<g id="C00003_e" transform="translate(854.5 2406.5)"><rect class="b" width="303" height="172"/><use href="#nad"/><text class="id" x="8.5" y="158">C00003</text></g>
<g id="C00001_e" transform="translate(1182.5 2460.5)"><rect class="b" width="72" height="64"/><use href="#water"/><text class="id" x="11" y="49">C00001</text></g>

<g id="C02843" transform="translate(1278.5 2451.5)"><rect class="b" width="152" height="82"/><g class="mol" font-size="13"><path d="M22 35L35 35L57.6 45.7L81 36.3L98.5 46H125.5M79 36V20M83 36V20M50 28H45V54H50M64 28H69V54H64"/><text x="18" y="35">H<tspan dy="3">3</tspan><tspan dy="-3" font-size="100%">C</tspan></text><text x="81" y="16">O</text><text x="98.5" y="46">S</text><text x="125.5" y="46">CoA</text><text x="78" y="49" font-weight="bold">2n</text></g><text class="id" x="8" y="68.5">C02843</text></g>

<g id="C00011_c" transform="translate(1454.5 2464.5)"><rect class="b" width="72" height="56"/><use href="#co2"/><text class="id" x="12" y="42">C00011</text></g>

<g id="C00003_f" transform="translate(510.5 2834.5)"><rect class="b" width="274" height="106"/><use href="#adp"/><text class="id" x="10" y="92">C00003</text></g>
<g id="C00005_b" transform="translate(808.5 2753.5)"><rect class="b" width="410" height="268"/><use href="#nadph"/><text class="id" x="8.5" y="253">C00005</text></g>
<g id="C00080_d" transform="translate(1243.5 2864.5)"><rect class="b" width="72" height="47"/><use href="#hp"/><text class="id" x="14.5" y="33">C00080</text></g>
<g id="C00004_c" transform="translate(1339.5 2802.5)"><rect class="b" width="304" height="170"/><use href="#nadh"/><text class="id" x="8.5" y="155">C00004</text></g>
<g id="C00009_b" transform="translate(1668.5 2844.5)"><rect class="b" width="84" height="87"/><use href="#pi"/><text class="id" x="8" y="73">C00009</text></g>

<g id="C00311" transform="translate(2664.5 2830.5)"><rect class="b" width="119" height="114"/><g class="mol" font-size="12.5"><path d="M84 13.6L66 27V43L49 51L33 43V23M35 44L14 52M33 47L14 55M64 25L48 15M67 23L50 12M66 43L84 51L101 43M84 51V71L60 81M83 69L96 79M85 73L98 83"/><text x="46.3" y="13.6">O</text><text x="84" y="13.6">OH</text><text x="33" y="23">OH</text><text x="12.3" y="52.6">O</text><text x="101" y="43">OH</text><text x="97" y="81">O</text><text x="60" y="81">HO</text></g><text class="id" x="8" y="100">C00311</text></g>

<g id="C00229" transform="translate(2173.5 2864.5)"><rect class="b" width="71" height="47"/><g class="mol" font-size="12"><path d="M30 13H40"/><text x="20" y="13">HS</text><text x="46" y="13">R</text></g><text class="id" x="14" y="32">C00229</text></g>
<g id="C00011_d" transform="translate(2268.5 2860.5)"><rect class="b" width="71" height="55"/><use href="#co2"/><text class="id" x="12" y="41.5">C00011</text></g>

<g id="C05759" transform="translate(2365.5 2849.5)"><rect class="b" width="274" height="76"/><g class="mol" font-size="12"><path d="M25 37L37 30L52.7 40L68.4 30L84.1 40L99.8 30L115.5 40L131.2 30L146.9 40L162.6 30L178.3 40L194 30L210 40L226 30L242 39H260M192 30V17M196 30V17M224 30V17M228 30V17"/><text x="19" y="40">H<tspan dy="3">3</tspan><tspan dy="-3" font-size="100%">C</tspan></text><text x="194" y="13">O</text><text x="226" y="13">O</text><text x="242" y="39">S</text><text x="260" y="39">R</text></g><text class="id" x="9" y="62">C05759</text></g>

<g id="C00024" transform="translate(1730.5 3180.5)"><rect class="b" width="120" height="83"/><g class="mol" font-size="13"><path d="M23 45.8L49 30.5L67.3 45.8H95M47 30V18M51 30V18"/><text x="23" y="45.8">H<tspan dy="3">3</tspan><tspan dy="-3" font-size="100%">C</tspan></text><text x="49" y="17">O</text><text x="67.3" y="45.8">S</text><text x="95" y="45.8">CoA</text></g><text class="id" x="10" y="68">C00024</text></g>

<g id="C00002_c" transform="translate(1379.5 3166.5)"><rect class="b" width="327" height="111"/><use href="#atp"/><text class="id" x="9" y="98">C00002</text></g>

<g id="C01209" transform="translate(1875.5 3182.5)"><rect class="b" width="116" height="79"/><g class="mol" font-size="13"><path d="M28 32L14 43M30 35L16 46M29.4 33L36 15M29.4 33L47 44L63 33L82 44H101M61 33V17M65 33V17"/><text x="13.3" y="45">O</text><text x="36" y="15">OH</text><text x="63" y="15">O</text><text x="82" y="44">S</text><text x="101" y="44">R</text></g><text class="id" x="8" y="65">C01209</text></g>

<g id="C00042" transform="translate(2016.5 3172.5)"><rect class="b" width="136" height="99"/><g class="mol" font-size="13.5"><path d="M18 44.4L40.5 36L58.6 44.4L74.6 36L91 44.4L114 34.6M38.5 18V36M42.5 18V36M89 46V62M93 46V62"/><text x="18" y="44.4">HO</text><text x="40.5" y="14">O</text><text x="91" y="64.7">O</text><text x="114" y="34.6">OH</text></g><text class="id" x="8" y="84.5">C00042</text></g>

<g id="C00002_d" transform="translate(2176.5 3166.5)"><rect class="b" width="327" height="111"/><use href="#atp"/><text class="id" x="9" y="98">C00002</text></g>

<g id="C05223" transform="translate(2527.5 3181.5)"><rect class="b" width="264" height="80"/><g class="mol" font-size="12"><path d="M25 40L40 34L57 43L74 34L91 43L108 34L125 43L142 34L159 43L176 34L195 43L212 34L230 43H250M210 34V18M214 34V18"/><text x="19" y="43">H<tspan dy="3">3</tspan><tspan dy="-3" font-size="100%">C</tspan></text><text x="212" y="14">O</text><text x="230" y="43">S</text><text x="250" y="43">R</text></g><text class="id" x="9" y="65">C05223</text></g>

<g id="C00048" transform="translate(2866.5 3179.5)"><rect class="b" width="71" height="85"/><g class="mol" font-size="12"><path d="M29 21L14 12M31 24L16 15M30.4 22L51.4 13M30.4 22V41L44 50M31 39L47 48"/><text x="13.8" y="13">O</text><text x="51.4" y="13">OH</text><text x="47" y="52">O</text></g><text class="id" x="8.5" y="70">C00048</text></g>

<g id="C00027" transform="translate(2962.5 3198.5)"><rect class="b" width="71" height="47"/><g class="mol" font-size="13"><text x="35" y="14">HO-OH</text></g><text class="id" x="10" y="33">C00027</text></g>

<g id="C00014" transform="translate(3059.5 3183.5)"><rect class="b" width="71" height="77"/><g class="mol" font-size="13"><path d="M34.7 14V33L17.4 43M34.7 33L51 43"/><text x="34.7" y="14">H</text><text x="34.7" y="33">N</text><text x="17.4" y="43">H</text><text x="51" y="43">H</text></g><text class="id" x="12.5" y="62.5">C00014</text></g>

<g id="C00037" transform="translate(2847.5 3425.5)"><rect class="b" width="90" height="102"/><g class="mol" font-size="13"><path d="M40 37V19M44 37V19M19 44L42 37L57 45L66 65"/><text x="42" y="15">O</text><text x="19" y="44">HO</text><text x="66" y="65">NH<tspan dy="3">2</tspan></text></g><text class="id" x="8.5" y="86.5">C00037</text></g>

<g id="C00007" transform="translate(2962.5 3452.5)"><rect class="b" width="71" height="48"/><g class="mol" font-size="13"><text x="29" y="15">O=O</text></g><text class="id" x="14.5" y="34">C00007</text></g>

<g id="C00001_f" transform="translate(3059.5 3444.5)"><rect class="b" width="71" height="64"/><use href="#water"/><text class="id" x="10" y="49">C00001</text></g>

<g id="C00002_e" transform="translate(459.5 3165.5)"><rect class="b" width="327" height="112"/><use href="#atp"/><text class="id" x="9" y="98">C00002</text></g>

<g id="C00288" transform="translate(811.5 3180.5)"><rect class="b" width="72" height="83"/><g class="mol" font-size="13"><path d="M18 29H34M18 32H34M35 30.7L49.5 14.7M35 30.7L47 48.4"/><text x="14.8" y="30.7">O</text><text x="49.5" y="14.7">OH</text><text x="47" y="48.4">O<tspan dy="-4">-</tspan></text></g><text class="id" x="8.5" y="68.5">C00288</text></g>

<g id="C00003_g" transform="translate(459.5 3423.5)"><rect class="b" width="275" height="106"/><use href="#adp"/><text class="id" x="10" y="92">C00003</text></g>

<g id="C00683" transform="translate(758.5 3425.5)"><rect class="b" width="146" height="102"/><g class="mol" font-size="13"><path d="M19.4 45L42 35L60 45.5L76 35L93.4 45H118M40 35V18M44 35V18M74 35V18M78 35V18"/><polygon points="60,45.5 58,60 63,60"/><text x="19.4" y="45">HO</text><text x="42" y="15">O</text><text x="76" y="15">O</text><text x="93.4" y="45">S</text><text x="118" y="45">CoA</text><text x="67" y="64.4">CH<tspan dy="3">3</tspan></text></g><text class="id" x="9" y="87">C00683</text></g>

<g id="C00009_c" transform="translate(928.5 3432.5)"><rect class="b" width="85" height="88"/><use href="#pi"/><text class="id" x="8" y="73">C00009</text></g>

<g id="C00100" transform="translate(826.5 3675.5)"><rect class="b" width="135" height="80"/><g class="mol" font-size="13"><path d="M22 35L47.4 45.5L64.3 35L83 44.6H111M62.3 35V18M66.3 35V18"/><text x="22" y="35">H<tspan dy="3">3</tspan><tspan dy="-3" font-size="100%">C</tspan></text><text x="64.3" y="14.7">O</text><text x="83" y="44.6">S</text><text x="111" y="44.6">CoA</text></g><text class="id" x="8" y="65">C00100</text></g>

<g id="C00003_h" transform="translate(1544.5 3424.5)"><rect class="b" width="275" height="105"/><use href="#adp"/><text class="id" x="10" y="92">C00003</text></g>
<g id="C00009_d" transform="translate(1843.5 3433.5)"><rect class="b" width="84" height="87"/><use href="#pi"/><text class="id" x="8" y="73">C00009</text></g>
</svg>
